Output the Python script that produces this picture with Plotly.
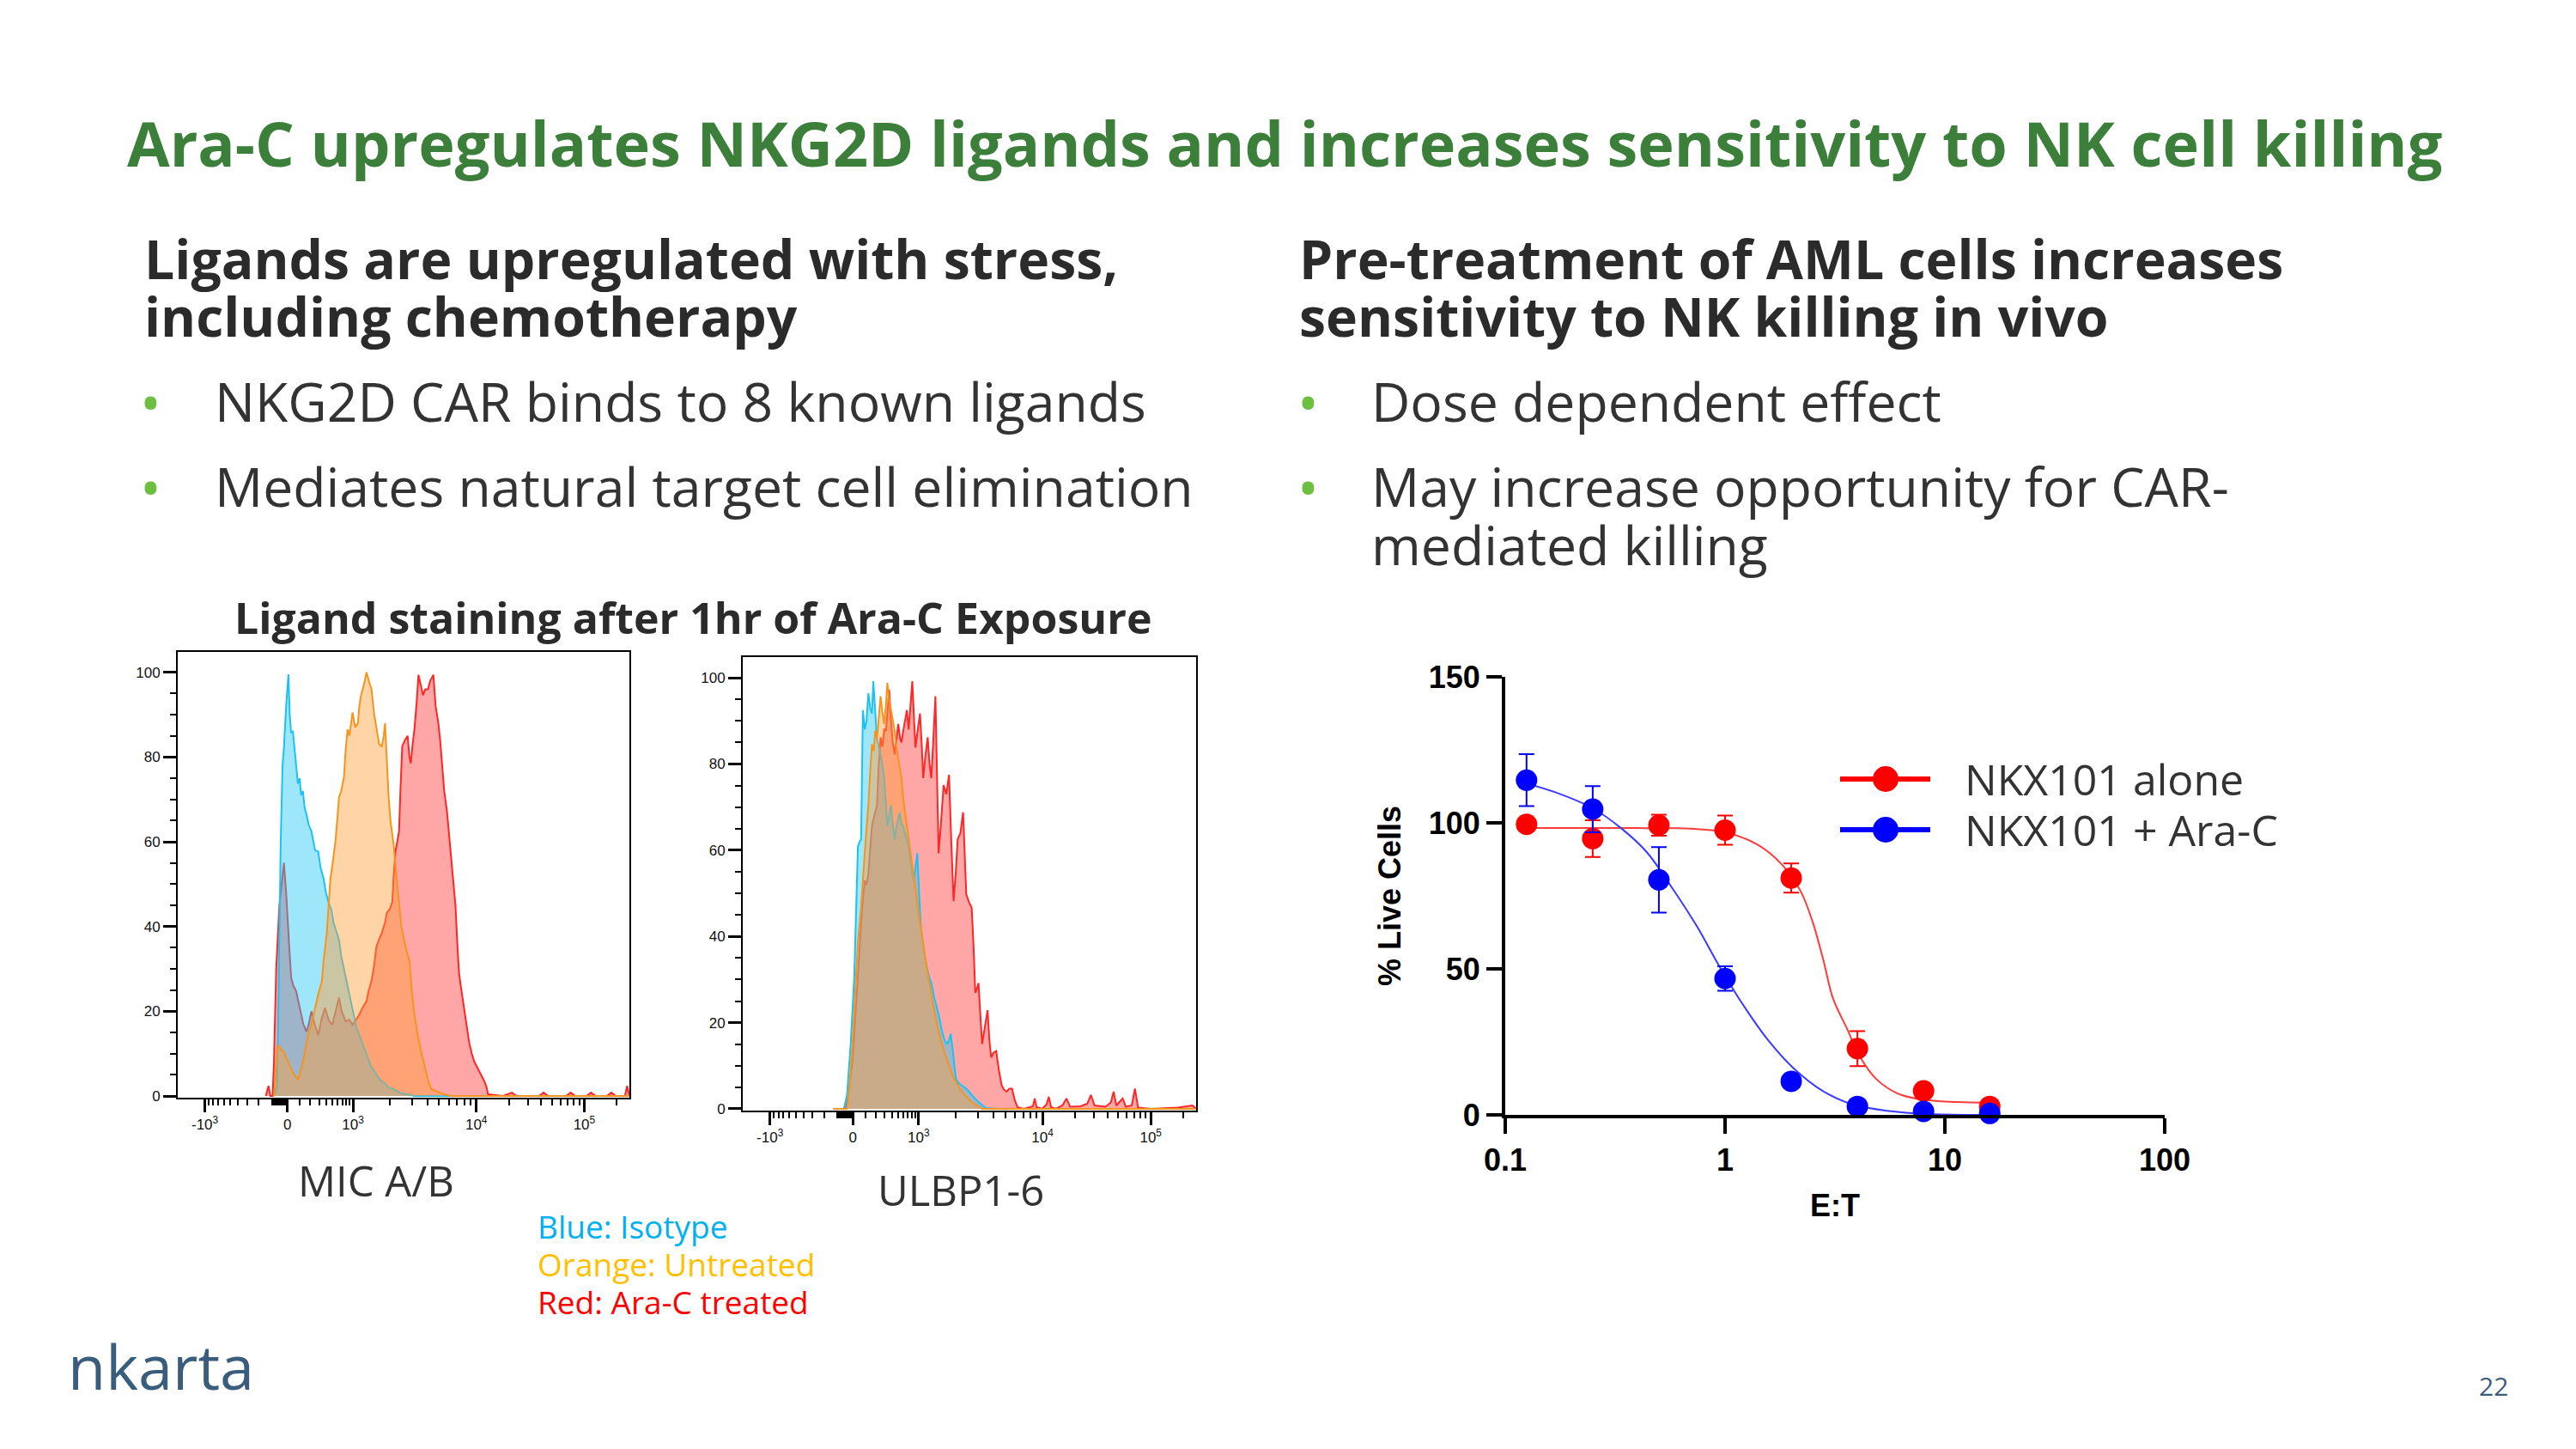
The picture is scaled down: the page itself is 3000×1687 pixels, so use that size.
import math

import plotly.graph_objects as go

W, H = 3000, 1687
BODY = 8  # the page body margin shifts the figure by this many pixels


def px(x):
    return (x - BODY) / W


def py(y):
    return 1 - (y - BODY) / H


# ---- flow histograms: x in display channels (0-1000 biexponential scale), y = % of max ----
MICA_BLUE_X = [213, 220, 224, 228, 232, 235, 240, 245, 248, 251, 255, 258, 262, 266, 270, 273, 277, 281, 285, 290,
               296, 301, 304, 311, 316, 323, 328, 334, 340, 345, 350, 357, 362, 368, 374, 380, 386, 391, 396, 402,
               410, 418, 428, 437, 446, 456, 467, 478, 495, 509, 524, 1000]
MICA_BLUE_Y = [0, 2, 30, 60, 78, 82, 92, 99.5, 90, 85.7, 86, 82.5, 78, 73.7, 75, 71, 72, 68, 66.5, 64,
               62.5, 60, 58, 57.7, 54, 51.3, 48, 45.7, 44, 40.9, 39, 36.9, 33, 29.6, 27, 24, 21, 18.4, 16, 14.4,
               12, 9.6, 7, 5.6, 4, 3.2, 2, 1.6, 0.6, 0.4, 0, 0]

MICA_ORANGE_X = [213, 216, 220, 224, 228, 235, 240, 245, 251, 258, 266, 270, 277, 283, 289, 296, 304, 311, 319, 323,
                 330, 334, 338, 343, 349, 353, 357, 362, 368, 372, 376, 380, 387, 393, 399, 402, 406, 412, 418, 423,
                 429, 435, 440, 446, 452, 456, 459, 463, 467, 471, 478, 484, 490, 495, 501, 507, 513, 518, 524, 532,
                 539, 545, 550, 556, 562, 580, 592, 604, 1000]
MICA_ORANGE_Y = [0, 3, 11, 12, 11, 10.4, 9, 8, 6.4, 5, 4, 5, 8, 11, 14.4, 17, 20.8, 24, 27, 32,
                 38.5, 45, 51.3, 55, 60, 65, 70.5, 72, 75.3, 82, 86.5, 85, 90.5, 87, 88, 92, 94.6, 97, 100, 98,
                 96, 90, 86.5, 83, 82.5, 85, 88, 78, 70.5, 65, 59.3, 52, 44.9, 40, 36.9, 34, 32, 25, 19.2, 14,
                 10.4, 8, 5.6, 3, 1.6, 0.8, 0.4, 0, 0]

MICA_RED_X = [195, 201, 205, 210, 213, 218, 225, 230, 235, 240, 243, 247, 251, 256, 262, 268, 273, 278, 285, 290,
              296, 303, 311, 318, 326, 334, 342, 349, 357, 363, 372, 380, 387, 395, 402, 410, 418, 423, 429, 435,
              440, 446, 452, 459, 463, 469, 475, 478, 482, 486, 490, 493, 497, 503, 509, 513, 516, 520, 524, 529,
              533, 538, 543, 548, 554, 559, 566, 571, 577, 581, 585, 590, 596, 602, 607, 611, 615, 619, 623, 628,
              634, 640, 645, 651, 657, 662, 668, 674, 680, 684, 687, 720, 740, 750, 800, 810, 820, 860, 870, 880,
              905, 915, 925, 950, 960, 970, 990, 995, 1000]
MICA_RED_Y = [0, 2.4, 0, 0, 8, 30, 45, 50, 55, 48, 41.7, 35, 28, 26, 24.8, 22, 20, 17, 15.2, 17,
              20, 17, 14.4, 18, 20.8, 18, 16.8, 20, 23.2, 20, 17.6, 18, 16.8, 18, 19.2, 21, 22.4, 25, 27.2, 31,
              35.3, 37, 38.5, 41, 43.3, 44, 45.7, 52, 57.7, 60, 62.5, 72, 82.5, 84, 85, 80, 78.5, 83, 86.5, 93,
              99.4, 97, 94.6, 96, 96, 98, 99.4, 92, 88, 84, 78.5, 72, 67.3, 60, 54.5, 50, 44.9, 36, 28.8, 25,
              20.8, 16, 12.8, 10, 8, 7, 5.6, 4.5, 3.2, 2, 0.4, 0, 0.8, 0, 0, 0.8, 0, 0, 0.8, 0,
              0, 0.8, 0, 0, 0.8, 0, 0, 2.4, 0]

ULBP_BLUE_X = [200, 223, 230, 238, 246, 251, 254, 258, 261, 265, 269, 273, 277, 281, 285, 288, 292, 296, 300, 304,
               308, 312, 316, 319, 323, 327, 331, 335, 340, 346, 350, 354, 360, 366, 371, 377, 381, 385, 389, 393,
               398, 404, 410, 416, 422, 428, 434, 439, 445, 451, 455, 459, 465, 470, 476, 482, 488, 493, 499, 505,
               512, 520, 528, 536, 560, 1000]
ULBP_BLUE_Y = [0, 0, 3.2, 15, 30.8, 50, 60.9, 62, 62.5, 92.5, 88, 90, 96.4, 93, 91.7, 99.2, 92, 86, 84, 82.2,
               80, 76.7, 70, 65.6, 68, 70.4, 66, 62.5, 66, 68.8, 66, 65.6, 63, 60.9, 57, 53, 56, 59.3, 50, 41.9,
               38, 34, 31, 29.2, 26, 23.7, 21, 18.2, 16, 15, 16, 17.4, 11, 7.1, 6, 5.5, 5, 4.7, 4, 3.2,
               2.4, 1.6, 0.8, 0.2, 0, 0]

ULBP_ORANGE_X = [200, 230, 236, 242, 248, 254, 261, 265, 269, 273, 277, 281, 285, 289, 292, 296, 300, 304, 308, 312,
                 316, 319, 323, 327, 331, 335, 339, 343, 346, 350, 354, 358, 362, 366, 370, 374, 378, 381, 387, 393,
                 398, 404, 410, 416, 422, 428, 434, 439, 445, 451, 457, 462, 468, 474, 482, 490, 497, 505, 516, 528,
                 1000]
ULBP_ORANGE_Y = [0, 0, 6, 15, 27, 38.7, 46.6, 52, 59.3, 65, 70.4, 78, 84.6, 83, 87.7, 86, 90.9, 95.7, 92, 89.3,
                 94, 98.8, 95, 92.5, 90, 87.7, 84, 81.4, 79, 76.7, 72, 68.8, 66, 62.5, 59, 56.1, 53, 49.8, 46, 41.9,
                 38, 34, 30, 26.1, 23, 19.8, 17, 15, 13, 11.1, 9.5, 7.9, 6.5, 5.5, 4.2, 3.2, 2.4, 1.6, 0.8, 0,
                 0]

ULBP_RED_X = [200, 227, 234, 242, 250, 258, 263, 269, 273, 277, 281, 285, 290, 296, 300, 304, 308, 312, 316, 319,
              323, 327, 331, 335, 339, 343, 347, 350, 354, 358, 362, 366, 370, 374, 378, 381, 386, 391, 395, 398,
              403, 408, 412, 416, 420, 425, 428, 432, 437, 443, 449, 455, 460, 465, 470, 474, 480, 486, 490, 493,
              499, 505, 509, 513, 517, 520, 524, 528, 534, 540, 544, 548, 553, 559, 565, 571, 576, 582, 588, 594,
              600, 606, 620, 640, 644, 648, 660, 670, 675, 680, 691, 705, 714, 722, 745, 760, 768, 776, 800, 812,
              818, 824, 838, 845, 858, 865, 872, 900, 960, 992, 1000]
ULBP_RED_Y = [0, 0, 4, 11, 24, 38.7, 46, 53, 52, 54.5, 60, 65.6, 68, 70.4, 80, 86.2, 84, 88, 87.7, 92,
              97.2, 90, 85, 82.2, 86, 89.3, 86, 85, 87.7, 90, 92.5, 88, 94, 99.2, 90, 83.8, 88, 91.7, 84, 76.7,
              82, 86.2, 80, 76.7, 85, 95.7, 80, 59.3, 66, 75.1, 73, 77.5, 62, 48.2, 55, 62.5, 64, 68.8, 58, 49.8,
              48, 46.6, 38, 26.9, 28, 29.2, 22, 15, 19, 22.9, 16, 11.9, 13, 13.4, 9, 5.5, 4.5, 4, 4.7, 4.7,
              2, 0.4, 0, 0.6, 2.4, 0.4, 0, 1, 2.8, 0.4, 0, 0.8, 2.4, 0.5, 0.6, 1.2, 3.2, 0.8, 0.5, 1.5,
              4, 0.8, 2.4, 0.5, 0.8, 4.7, 0.3, 0, 0.3, 0.8, 0]

# major ticks of the biexponential axis (channel position, label)
HIST_TICK_POS = [60, 243, 388, 661, 900]
HIST_TICK_TEXT = ["-10<sup>3</sup>", "0", "10<sup>3</sup>", "10<sup>4</sup>", "10<sup>5</sup>"]

# ---- NK killing dose response ----
ET_RATIO = [0.125, 0.25, 0.5, 1, 2, 4, 8, 16]
ALONE_MEAN = [99.5, 94.6, 99.2, 97.5, 81.1, 22.7, 8.2, 2.9]
ALONE_ERR = [0, 6.3, 3.6, 5, 5, 6, 0, 0]
ARAC_MEAN = [114.6, 104.7, 80.5, 46.7, 11.5, 2.9, 1.2, 0.5]
ARAC_ERR = [8.9, 7.9, 11.2, 4.2, 0, 0, 0, 0]

ALONE_FIT_X = [0.125, 0.2, 0.4, 0.7, 1.0, 1.4, 1.8, 2.2, 2.5, 2.8, 3.1, 3.6, 4.1, 4.9, 6.3, 8.7, 16.5]
ALONE_FIT_Y = [98.2, 98.2, 98.2, 98.0, 96.8, 92.6, 86, 76.8, 66.2, 53, 39.8, 29.3, 20, 12.1, 6.9, 4.9, 4.2]
ARAC_FIT_X = [0.125, 0.17, 0.25, 0.34, 0.44, 0.57, 0.74, 0.95, 1.22, 1.58, 2.04, 2.78, 3.8, 5.6, 8.2, 16.5]
ARAC_FIT_Y = [113.5, 110.4, 105, 97.9, 90, 78.1, 64.9, 50.4, 37.2, 25.3, 16.1, 8.2, 3.6, 1.3, 0.3, 0]

BLUE, ORANGE, RED = "#1cc3f2", "#f7941d", "#ff2626"
FILLS = {BLUE: "rgba(40,200,245,0.45)", ORANGE: "rgba(255,160,60,0.45)", RED: "rgba(255,60,60,0.45)"}


def biex_pos(v):
    """channel position of a value, interpolated between the major ticks"""
    c = 250.0
    if v >= 1000:
        k = math.log10(v)
        lo = min(int(k), 4)
        p = {3: 388, 4: 661, 5: 900}
        return p[lo] + (p[lo + 1] - p[lo]) * (k - lo)
    if v >= 0:
        return 243 + (388 - 243) * math.asinh(v / c) / math.asinh(1000 / c)
    return 243 - (243 - 60) * math.asinh(-v / c) / math.asinh(1000 / c)


HIST_MINOR = [biex_pos(v) for v in
              list(range(-900, 0, 100)) + list(range(-90, 0, 10)) + list(range(100, 1000, 100))
              + list(range(2000, 10000, 1000)) + list(range(20000, 100000, 10000)) + [200000]]

fig = go.Figure()

hist_sets = [
    ("x", "y", [(MICA_RED_X, MICA_RED_Y, RED), (MICA_BLUE_X, MICA_BLUE_Y, BLUE), (MICA_ORANGE_X, MICA_ORANGE_Y, ORANGE)]),
    ("x2", "y2", [(ULBP_RED_X, ULBP_RED_Y, RED), (ULBP_BLUE_X, ULBP_BLUE_Y, BLUE), (ULBP_ORANGE_X, ULBP_ORANGE_Y, ORANGE)]),
]
for xa, ya, curves in hist_sets:
    for xs, ys, col in curves:
        fig.add_trace(go.Scatter(x=xs, y=ys, xaxis=xa, yaxis=ya, mode="lines", fill="tozeroy",
                                 fillcolor=FILLS[col], line=dict(color=col, width=2), hoverinfo="skip"))

# dose-response: fitted curves then points with SEM
for fx, fy, col in [(ALONE_FIT_X, ALONE_FIT_Y, "#ff3b3b"), (ARAC_FIT_X, ARAC_FIT_Y, "#3b3bff")]:
    fig.add_trace(go.Scatter(x=fx, y=fy, xaxis="x3", yaxis="y3", mode="lines", line_shape="spline",
                             line=dict(color=col, width=2), cliponaxis=False))
for mean, err, col, name in [(ALONE_MEAN, ALONE_ERR, "#ff0000", "NKX101 alone"),
                             (ARAC_MEAN, ARAC_ERR, "#0000ff", "NKX101 + Ara-C")]:
    fig.add_trace(go.Scatter(x=ET_RATIO, y=mean, xaxis="x3", yaxis="y3", mode="markers", name=name,
                             marker=dict(color=col, size=25),
                             error_y=dict(type="data", array=err, color=col, thickness=2, width=9),
                             cliponaxis=False))

tick_font = dict(family="Liberation Sans, Arial", size=17, color="#111")
hist_x = dict(range=[0, 1000], showline=True, mirror=True, linecolor="black", linewidth=2,
              ticks="outside", tickmode="array", tickvals=HIST_TICK_POS, ticktext=HIST_TICK_TEXT,
              ticklen=15, tickwidth=3, tickcolor="black", tickfont=tick_font,
              minor=dict(tickmode="array", tickvals=HIST_MINOR, ticks="outside", ticklen=7, tickwidth=2,
                         tickcolor="black"),
              showgrid=False, zeroline=False, automargin=False)
hist_y = dict(range=[-0.4, 104.8], showline=True, mirror=True, linecolor="black", linewidth=2,
              ticks="outside", tickvals=[0, 20, 40, 60, 80, 100], ticklen=15, tickwidth=3, tickcolor="black",
              tickfont=tick_font, minor=dict(dtick=5, ticks="outside", ticklen=7, tickwidth=2, tickcolor="black"),
              showgrid=False, zeroline=False, automargin=False)

axis_font = dict(family="Liberation Sans, Arial", size=36, color="black", weight="bold")

fig.update_layout(
    width=W, height=H, margin=dict(l=0, r=0, t=0, b=0, autoexpand=False),
    paper_bgcolor="white", plot_bgcolor="white", showlegend=False,
    xaxis=dict(domain=[px(207), px(733)], anchor="y", **hist_x),
    yaxis=dict(domain=[py(1278), py(759)], anchor="x", **hist_y),
    xaxis2=dict(domain=[px(865), px(1393)], anchor="y2", **hist_x),
    yaxis2=dict(domain=[py(1293), py(765)], anchor="x2", **hist_y),
    xaxis3=dict(domain=[px(1753), px(2521)], anchor="y3", type="log", range=[-1, 2],
                tickvals=[0.1, 1, 10, 100], ticktext=["0.1", "1", "10", "100"],
                showline=True, linecolor="black", linewidth=4, ticks="outside", ticklen=18, tickwidth=4,
                tickcolor="black", tickfont=axis_font, showgrid=False, zeroline=False, automargin=False,
                title=dict(text="E:T", font=axis_font, standoff=22)),
    yaxis3=dict(domain=[py(1298), py(788)], anchor="x3", range=[0, 150], tickvals=[0, 50, 100, 150],
                showline=True, linecolor="black", linewidth=4, ticks="outside", ticklen=18, tickwidth=4,
                tickcolor="black", tickfont=axis_font, showgrid=False, zeroline=False, automargin=False,
                title=dict(text="% Live Cells", font=axis_font, standoff=22)),
)

# custom legend for the dose-response plot
shapes = []
for y, col in [(907, "#ff0000"), (966, "#0000ff")]:
    shapes.append(dict(type="line", xref="paper", yref="paper", x0=px(2143), x1=px(2248), y0=py(y), y1=py(y),
                       line=dict(color=col, width=6)))
    shapes.append(dict(type="circle", xref="paper", yref="paper", xsizemode="pixel", ysizemode="pixel",
                       xanchor=px(2196), yanchor=py(y), x0=-15, x1=15, y0=-15, y1=15,
                       fillcolor=col, line=dict(width=0)))
fig.update_layout(shapes=shapes)

DARK = "#333333"
HEAD = "#2b2b2b"
GREEN_BULLET = "#6cbf40"
SANS = "Open Sans"


def note(text, x, y, size, color=DARK, bold=False, anchor="left"):
    fig.add_annotation(text=text, x=px(x), y=py(y), xref="paper", yref="paper", showarrow=False,
                       xanchor=anchor, yanchor="middle",
                       font=dict(family=SANS, size=size, color=color, weight="bold" if bold else "normal"))


note("Ara-C upregulates NKG2D ligands and increases sensitivity to NK cell killing", 1496, 166, 72,
     color="#3b7f3a", bold=True, anchor="center")

note("Ligands are upregulated with stress,", 166, 300, 62.5, HEAD, True)
note("including chemotherapy", 166, 367, 62.5, HEAD, True)
note("Pre-treatment of AML cells increases", 1511, 300, 62.5, HEAD, True)
note("sensitivity to NK killing in vivo", 1511, 367, 62.5, HEAD, True)

for bx, tx, y, txt in [(175, 248, 467, "NKG2D CAR binds to 8 known ligands"),
                       (175, 248, 566, "Mediates natural target cell elimination"),
                       (1523, 1595, 467, "Dose dependent effect"),
                       (1523, 1595, 566, "May increase opportunity for CAR-")]:
    note("•", bx, y, 66, GREEN_BULLET, anchor="center")
    note(txt, tx, y, 62.5)
note("mediated killing", 1595, 633, 62.5)

note("Ligand staining after 1hr of Ara-C Exposure", 807, 719, 50, HEAD, True, anchor="center")
note("MIC A/B", 438, 1374, 49, anchor="center")
note("ULBP1-6", 1119, 1385, 49, anchor="center")
note("Blue: Isotype", 624, 1427, 37, "#00b0f0")
note("Orange: Untreated", 624, 1471, 37, "#ffc000")
note("Red: Ara-C treated", 624, 1515, 37, "#ff0000")

note("NKX101 alone", 2286, 907, 50)
note("NKX101 + Ara-C", 2286, 966, 50)

note("nkarta", 77, 1590, 72, "#3a5d7c")
note("22", 2904, 1613, 30, "#3a5d7c", anchor="center")

fig.write_html("out.html")
